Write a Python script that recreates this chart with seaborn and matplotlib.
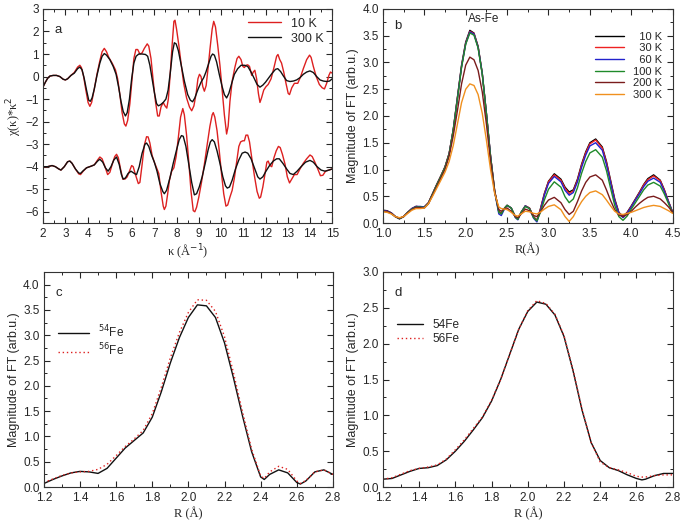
import matplotlib
matplotlib.use("Agg")
import matplotlib.pyplot as plt
from matplotlib.ticker import MultipleLocator, FormatStrFormatter
import seaborn as sns

# ---- panel a: chi(k)*k^2 ----
k_red_top = [2.0, 2.1, 2.2, 2.3, 2.45, 2.6, 2.75, 2.9, 3.0, 3.1, 3.25, 3.4, 3.55, 3.65, 3.72, 3.82, 3.92, 4.02, 4.1, 4.18,
             4.3, 4.42, 4.55, 4.65, 4.75, 4.85, 4.95, 5.1, 5.25, 5.35, 5.45, 5.55, 5.65, 5.72, 5.8, 5.9, 6.0, 6.08, 6.17, 6.25,
             6.35, 6.45, 6.55, 6.68, 6.75, 6.85, 6.95, 7.05, 7.15, 7.22, 7.3, 7.4, 7.48, 7.56, 7.63, 7.72, 7.8, 7.88, 7.93, 8.0,
             8.1, 8.2, 8.32, 8.45, 8.58, 8.68, 8.78, 8.88, 8.96, 9.03, 9.1, 9.18, 9.25, 9.33, 9.42, 9.5, 9.6, 9.67, 9.75, 9.85,
             9.95, 10.05, 10.15, 10.25, 10.32, 10.4, 10.5, 10.62, 10.72, 10.8, 10.9, 10.98, 11.05, 11.12, 11.2, 11.28, 11.38, 11.45, 11.52, 11.6,
             11.68, 11.75, 11.82, 11.92, 12.02, 12.12, 12.25, 12.38, 12.5, 12.56, 12.64, 12.72, 12.82, 12.92, 13.02, 13.08, 13.18, 13.3, 13.45, 13.58,
             13.7, 13.85, 13.98, 14.05, 14.15, 14.28, 14.42, 14.55, 14.65, 14.75, 14.85, 14.92, 15.0]
chi_red_top = [-0.45, -0.25, -0.08, 0.02, 0.05, 0.05, 0.0, -0.12, -0.15, -0.1, 0.05, 0.18, 0.42, 0.5, 0.4, 0.0, -0.6, -1.15, -1.32, -1.15,
               -0.55, 0.1, 0.7, 1.1, 1.25, 1.1, 0.85, 0.6, 0.3, -0.1, -0.8, -1.6, -2.1, -2.2, -1.95, -1.2, -0.1, 0.8, 1.2, 1.2,
               1.0, 1.05, 1.25, 1.45, 1.35, 0.8, -0.2, -1.1, -1.75, -1.75, -1.35, -1.15, -1.3, -1.4, -1.0, 0.2, 1.4, 2.45, 2.5, 2.1,
               1.4, 0.6, -0.3, -0.95, -1.35, -1.52, -1.3, -0.75, -0.1, 0.1, 0.0, -0.45, -0.65, -0.4, 0.4, 1.2, 2.1, 2.45, 2.2, 1.4,
               0.5, -0.6, -1.7, -2.55, -2.2, -1.1, -0.2, 0.4, 0.8, 0.9, 0.75, 0.45, 0.4, 0.5, 0.52, 0.45, 0.05, 0.2, 0.28, -0.1,
               -0.75, -1.15, -0.95, -0.6, -0.45, -0.35, -0.1, 0.4, 0.9, 0.98, 0.75, 0.6, 0.2, -0.3, -0.75, -0.8, -0.5, -0.3, -0.3, 0.0,
               0.35, 0.75, 0.95, 0.85, 0.45, 0.0, -0.35, -0.5, -0.55, -0.3, 0.05, 0.2, 0.15]

k_blk_top = [2.0, 2.1, 2.2, 2.3, 2.45, 2.6, 2.75, 2.9, 3.0, 3.1, 3.25, 3.4, 3.55, 3.65, 3.75, 3.85, 3.95, 4.05, 4.12, 4.2,
             4.3, 4.42, 4.55, 4.65, 4.75, 4.85, 5.0, 5.15, 5.28, 5.4, 5.5, 5.6, 5.7, 5.78, 5.88, 5.98, 6.08, 6.18, 6.3, 6.45,
             6.6, 6.7, 6.8, 6.9, 7.0, 7.1, 7.18, 7.28, 7.4, 7.52, 7.62, 7.72, 7.82, 7.9, 7.98, 8.08, 8.2, 8.35, 8.5, 8.62,
             8.72, 8.82, 8.95, 9.1, 9.22, 9.32, 9.45, 9.55, 9.62, 9.7, 9.8, 9.92, 10.05, 10.15, 10.25, 10.35, 10.48, 10.6, 10.75, 10.9,
             11.05, 11.2, 11.35, 11.5, 11.62, 11.75, 11.88, 12.0, 12.15, 12.3, 12.45, 12.55, 12.68, 12.82, 12.95, 13.1, 13.25, 13.4, 13.55, 13.7,
             13.85, 14.0, 14.15, 14.3, 14.45, 14.6, 14.75, 14.88, 15.0]
chi_blk_top = [-0.45, -0.25, -0.08, 0.02, 0.05, 0.05, 0.0, -0.12, -0.15, -0.1, 0.05, 0.15, 0.35, 0.42, 0.3, -0.1, -0.6, -1.05, -1.1, -0.95,
               -0.55, 0.05, 0.6, 0.9, 1.02, 0.95, 0.75, 0.45, 0.1, -0.5, -1.1, -1.55, -1.75, -1.6, -1.0, -0.1, 0.6, 0.9, 1.0, 1.0,
               0.98, 0.9, 0.5, -0.1, -0.7, -1.2, -1.3, -1.25, -1.15, -1.0, -0.6, 0.2, 1.1, 1.5, 1.45, 1.15, 0.55, -0.2, -0.8, -1.05,
               -1.12, -0.95, -0.6, -0.25, -0.05, 0.2, 0.6, 0.9, 1.0, 0.95, 0.65, 0.1, -0.45, -0.8, -0.95, -0.75, -0.3, 0.1, 0.35, 0.5,
               0.5, 0.45, 0.2, -0.1, -0.35, -0.47, -0.38, -0.25, -0.05, 0.15, 0.32, 0.35, 0.22, 0.0, -0.18, -0.22, -0.2, -0.15, -0.05, 0.1,
               0.2, 0.25, 0.18, 0.0, -0.15, -0.2, -0.22, -0.2, -0.1]

k_red_bot = [2.0, 2.2, 2.4, 2.55, 2.7, 2.8, 2.95, 3.1, 3.2, 3.3, 3.45, 3.6, 3.68, 3.8, 3.95, 4.15, 4.3, 4.45, 4.55, 4.65,
             4.78, 4.9, 5.0, 5.12, 5.22, 5.3, 5.38, 5.48, 5.58, 5.68, 5.78, 5.88, 5.98, 6.05, 6.15, 6.28, 6.35, 6.45, 6.55, 6.65,
             6.72, 6.8, 6.9, 7.0, 7.1, 7.2, 7.3, 7.4, 7.45, 7.52, 7.6, 7.68, 7.78, 7.88, 7.98, 8.08, 8.18, 8.28, 8.35, 8.45,
             8.55, 8.65, 8.75, 8.82, 8.9, 9.0, 9.12, 9.25, 9.38, 9.5, 9.6, 9.65, 9.72, 9.82, 9.92, 10.02, 10.12, 10.22, 10.3, 10.4,
             10.5, 10.6, 10.7, 10.8, 10.88, 10.98, 11.05, 11.12, 11.2, 11.28, 11.38, 11.5, 11.62, 11.72, 11.78, 11.88, 11.98, 12.06, 12.12, 12.2,
             12.28, 12.38, 12.48, 12.58, 12.66, 12.76, 12.88, 12.98, 13.08, 13.18, 13.3, 13.42, 13.55, 13.7, 13.85, 14.0, 14.1, 14.22, 14.35, 14.47,
             14.58, 14.7, 14.85, 15.0]
chi_red_bot = [-4.0, -4.0, -3.95, -4.0, -4.1, -4.15, -4.0, -3.78, -3.75, -3.85, -4.1, -4.32, -4.35, -4.2, -4.05, -3.98, -3.92, -3.7, -3.57, -3.65,
               -4.0, -4.35, -4.25, -3.85, -3.55, -3.45, -3.6, -4.1, -4.55, -4.55, -4.45, -4.2, -3.95, -4.0, -4.35, -4.75, -4.7, -3.9, -3.05, -2.67,
               -2.68, -2.95, -3.5, -3.8, -4.05, -4.3, -5.1, -5.75, -5.9, -5.75, -5.2, -4.6, -4.2, -4.05, -3.55, -2.7, -1.8, -1.42, -1.7, -2.6,
               -3.8, -5.1, -5.95, -6.0, -5.8, -5.35, -4.7, -3.9, -3.0, -2.2, -1.7, -1.6, -1.8, -2.4, -3.3, -4.3, -5.2, -5.75, -5.7, -5.35,
               -5.05, -4.5, -3.8, -3.1, -2.9, -2.85, -2.85, -2.6, -2.6, -2.9, -3.6, -4.4, -5.1, -5.4, -5.35, -4.9, -4.3, -3.8, -3.75, -3.95,
               -4.0, -3.6, -3.3, -3.1, -3.15, -3.45, -3.9, -4.45, -4.72, -4.55, -4.35, -4.35, -4.1, -3.85, -3.65, -3.48, -3.55, -3.8, -4.1, -4.4,
               -4.38, -4.2, -4.15, -4.1]

k_blk_bot = [2.0, 2.2, 2.4, 2.55, 2.7, 2.8, 2.95, 3.1, 3.2, 3.3, 3.45, 3.6, 3.68, 3.8, 3.95, 4.15, 4.3, 4.45, 4.55, 4.68,
             4.8, 4.92, 5.05, 5.18, 5.3, 5.42, 5.52, 5.6, 5.7, 5.82, 5.95, 6.1, 6.2, 6.32, 6.45, 6.58, 6.65, 6.75, 6.88, 7.0,
             7.12, 7.25, 7.38, 7.45, 7.55, 7.7, 7.85, 8.0, 8.12, 8.22, 8.3, 8.42, 8.55, 8.68, 8.8, 8.9, 9.02, 9.15, 9.3, 9.42,
             9.52, 9.6, 9.7, 9.82, 9.95, 10.08, 10.2, 10.28, 10.38, 10.5, 10.65, 10.8, 10.95, 11.08, 11.2, 11.35, 11.5, 11.65, 11.75, 11.88,
             12.02, 12.18, 12.35, 12.5, 12.62, 12.78, 12.95, 13.1, 13.25, 13.42, 13.6, 13.8, 14.0, 14.15, 14.32, 14.5, 14.68, 14.85, 15.0]
chi_blk_bot = [-4.0, -4.0, -3.95, -4.0, -4.1, -4.15, -4.0, -3.78, -3.75, -3.85, -4.1, -4.28, -4.3, -4.18, -4.05, -3.98, -3.92, -3.75, -3.67, -3.8,
               -4.05, -4.2, -4.0, -3.7, -3.57, -3.9, -4.35, -4.55, -4.5, -4.3, -4.2, -4.3, -4.35, -4.0, -3.4, -3.0, -2.95, -3.1, -3.5, -3.8,
               -4.2, -4.75, -5.1, -5.2, -5.05, -4.5, -3.85, -3.25, -2.8, -2.62, -2.65, -3.1, -3.9, -4.7, -5.25, -5.2, -4.9, -4.45, -3.8, -3.25,
               -2.9, -2.8, -2.9, -3.3, -3.85, -4.45, -4.85, -4.95, -4.9, -4.6, -4.1, -3.7, -3.4, -3.35, -3.4, -3.65, -4.05, -4.45, -4.55, -4.45,
               -4.2, -3.95, -3.75, -3.65, -3.65, -3.85, -4.1, -4.3, -4.35, -4.2, -4.0, -3.8, -3.72, -3.8, -4.0, -4.15, -4.2, -4.15, -4.1]

# ---- panel b: FT magnitude vs temperature ----
r_b = [1.0, 1.05, 1.1, 1.15, 1.2, 1.25, 1.3, 1.35, 1.4, 1.45, 1.5, 1.55, 1.6, 1.65, 1.7, 1.75, 1.8, 1.85, 1.9, 1.95,
       2.0, 2.05, 2.1, 2.15, 2.2, 2.25, 2.3, 2.35, 2.4, 2.43, 2.47, 2.5, 2.55, 2.6, 2.63, 2.67, 2.72, 2.77, 2.82, 2.86,
       2.9, 2.95, 3.0, 3.07, 3.15, 3.2, 3.25, 3.3, 3.35, 3.4, 3.45, 3.5, 3.57, 3.65, 3.7, 3.75, 3.8, 3.85, 3.9, 3.95,
       4.0, 4.05, 4.1, 4.15, 4.2, 4.27, 4.35, 4.4, 4.45, 4.5]
ft_10k = [0.24, 0.23, 0.19, 0.12, 0.08, 0.12, 0.2, 0.27, 0.31, 0.3, 0.3, 0.38, 0.55, 0.72, 0.88, 1.05, 1.3, 1.75, 2.35, 2.95,
          3.38, 3.6, 3.55, 3.3, 2.8, 2.05, 1.25, 0.6, 0.22, 0.18, 0.28, 0.33, 0.28, 0.12, 0.08, 0.2, 0.32, 0.28, 0.12, 0.05,
          0.25, 0.55, 0.78, 0.92, 0.82, 0.67, 0.58, 0.62, 0.82, 1.1, 1.33, 1.5, 1.57, 1.42, 1.15, 0.8, 0.45, 0.2, 0.12, 0.2,
          0.32, 0.45, 0.58, 0.72, 0.83, 0.9, 0.8, 0.62, 0.4, 0.2]
ft_30k = [0.23, 0.22, 0.19, 0.12, 0.08, 0.12, 0.2, 0.27, 0.31, 0.3, 0.3, 0.38, 0.55, 0.72, 0.88, 1.05, 1.3, 1.75, 2.34, 2.93,
          3.36, 3.58, 3.54, 3.29, 2.79, 2.05, 1.25, 0.6, 0.21, 0.17, 0.28, 0.33, 0.28, 0.11, 0.07, 0.2, 0.32, 0.28, 0.11, 0.04,
          0.24, 0.54, 0.77, 0.9, 0.8, 0.65, 0.55, 0.6, 0.8, 1.08, 1.31, 1.48, 1.55, 1.4, 1.13, 0.78, 0.43, 0.19, 0.11, 0.19,
          0.31, 0.44, 0.57, 0.71, 0.81, 0.88, 0.79, 0.61, 0.4, 0.2]
ft_60k = [0.23, 0.22, 0.19, 0.12, 0.08, 0.12, 0.2, 0.27, 0.31, 0.31, 0.3, 0.37, 0.54, 0.71, 0.87, 1.04, 1.29, 1.74, 2.33, 2.92,
          3.35, 3.57, 3.53, 3.28, 2.79, 2.05, 1.25, 0.58, 0.17, 0.14, 0.27, 0.33, 0.28, 0.1, 0.06, 0.2, 0.32, 0.27, 0.09, 0.02,
          0.22, 0.52, 0.74, 0.87, 0.77, 0.61, 0.52, 0.57, 0.77, 1.04, 1.27, 1.44, 1.5, 1.36, 1.09, 0.75, 0.41, 0.18, 0.1, 0.18,
          0.3, 0.43, 0.55, 0.68, 0.78, 0.84, 0.76, 0.59, 0.39, 0.2]
ft_100k = [0.22, 0.21, 0.18, 0.12, 0.08, 0.12, 0.2, 0.26, 0.3, 0.3, 0.29, 0.37, 0.54, 0.71, 0.87, 1.04, 1.29, 1.74, 2.32, 2.91,
           3.34, 3.55, 3.51, 3.27, 2.78, 2.04, 1.24, 0.59, 0.2, 0.17, 0.28, 0.33, 0.28, 0.11, 0.07, 0.2, 0.31, 0.27, 0.1, 0.04,
           0.19, 0.43, 0.63, 0.77, 0.67, 0.49, 0.38, 0.45, 0.66, 0.93, 1.15, 1.31, 1.37, 1.23, 0.98, 0.65, 0.33, 0.12, 0.05, 0.13,
           0.26, 0.38, 0.5, 0.62, 0.71, 0.76, 0.69, 0.54, 0.36, 0.19]
ft_200k = [0.22, 0.21, 0.18, 0.12, 0.09, 0.12, 0.19, 0.25, 0.29, 0.29, 0.28, 0.36, 0.52, 0.68, 0.84, 1.0, 1.25, 1.63, 2.1, 2.6,
           2.95, 3.1, 3.05, 2.85, 2.45, 1.85, 1.15, 0.58, 0.25, 0.22, 0.27, 0.28, 0.22, 0.12, 0.1, 0.17, 0.26, 0.23, 0.14, 0.12,
           0.2, 0.33, 0.43, 0.48, 0.38, 0.25, 0.16, 0.22, 0.4, 0.6, 0.76, 0.86, 0.9, 0.8, 0.62, 0.42, 0.25, 0.15, 0.12, 0.16,
           0.22, 0.3, 0.37, 0.43, 0.48, 0.5, 0.45, 0.38, 0.3, 0.2]
ft_300k = [0.21, 0.2, 0.17, 0.12, 0.1, 0.12, 0.18, 0.24, 0.27, 0.27, 0.28, 0.36, 0.5, 0.65, 0.8, 0.95, 1.15, 1.45, 1.85, 2.25,
           2.5, 2.6, 2.57, 2.4, 2.05, 1.55, 1.0, 0.55, 0.3, 0.27, 0.26, 0.25, 0.2, 0.14, 0.13, 0.17, 0.22, 0.21, 0.18, 0.17,
           0.2, 0.26, 0.31, 0.34, 0.25, 0.12, 0.03, 0.12, 0.27, 0.4, 0.5, 0.57, 0.6, 0.53, 0.43, 0.32, 0.22, 0.17, 0.16, 0.18,
           0.2, 0.23, 0.26, 0.29, 0.31, 0.33, 0.31, 0.27, 0.23, 0.18]
temps = ["  10 K", "  30 K", "  60 K", "100 K", "200 K", "300 K"]
temp_colors = ["#000000", "#ee2222", "#2222cc", "#1f8a2a", "#7a1c1c", "#f0901e"]

# ---- panel c / d: isotope comparison ----
r_c = [1.2, 1.25, 1.3, 1.35, 1.4, 1.45, 1.5, 1.55, 1.6, 1.65, 1.7, 1.75, 1.8, 1.85, 1.9, 1.95, 2.0, 2.05, 2.1, 2.15,
       2.2, 2.25, 2.3, 2.35, 2.4, 2.42, 2.45, 2.5, 2.55, 2.6, 2.62, 2.65, 2.7, 2.75, 2.8]
c_fe54 = [0.07, 0.15, 0.22, 0.28, 0.31, 0.3, 0.27, 0.37, 0.57, 0.77, 0.92, 1.07, 1.38, 1.88, 2.45, 2.95, 3.35, 3.6, 3.58, 3.35,
          2.85, 2.15, 1.4, 0.7, 0.2, 0.15, 0.25, 0.34, 0.28, 0.09, 0.06, 0.12, 0.3, 0.34, 0.25]
c_fe56 = [0.09, 0.16, 0.23, 0.28, 0.3, 0.31, 0.35, 0.45, 0.62, 0.8, 0.95, 1.12, 1.45, 1.97, 2.55, 3.05, 3.45, 3.7, 3.69, 3.47,
          2.97, 2.25, 1.48, 0.75, 0.22, 0.17, 0.3, 0.41, 0.35, 0.12, 0.07, 0.13, 0.3, 0.34, 0.25]

r_d = [1.2, 1.25, 1.3, 1.35, 1.4, 1.45, 1.5, 1.55, 1.6, 1.65, 1.7, 1.75, 1.8, 1.85, 1.9, 1.95, 2.0, 2.05, 2.1, 2.15,
       2.2, 2.25, 2.3, 2.35, 2.4, 2.45, 2.5, 2.55, 2.6, 2.63, 2.65, 2.7, 2.75, 2.8]
d_fe54 = [0.11, 0.12, 0.17, 0.22, 0.26, 0.27, 0.3, 0.38, 0.5, 0.64, 0.8, 0.97, 1.2, 1.5, 1.85, 2.2, 2.45, 2.58, 2.55, 2.4,
          2.1, 1.62, 1.07, 0.62, 0.37, 0.27, 0.23, 0.17, 0.12, 0.1, 0.11, 0.16, 0.19, 0.19]
d_fe56 = [0.11, 0.13, 0.18, 0.23, 0.26, 0.28, 0.31, 0.39, 0.52, 0.66, 0.82, 0.98, 1.21, 1.5, 1.85, 2.2, 2.46, 2.6, 2.56, 2.41,
          2.11, 1.63, 1.08, 0.62, 0.35, 0.27, 0.24, 0.2, 0.15, 0.14, 0.14, 0.16, 0.17, 0.17]

sns.set_style("ticks")
plt.rcParams["font.family"] = ["Liberation Sans", "DejaVu Sans"]
plt.rcParams["font.size"] = 8.5
plt.rcParams["xtick.direction"] = "in"
plt.rcParams["ytick.direction"] = "in"
plt.rcParams["xtick.top"] = True
plt.rcParams["ytick.right"] = True
plt.rcParams["axes.linewidth"] = 0.8

SERIF = ["Liberation Serif", "DejaVu Serif"]

fig = plt.figure(figsize=(6.85, 5.26), dpi=100)
ax_a = fig.add_axes([0.063, 0.576, 0.422, 0.407])
ax_b = fig.add_axes([0.559, 0.576, 0.423, 0.407])
ax_c = fig.add_axes([0.064, 0.074, 0.422, 0.409])
ax_d = fig.add_axes([0.559, 0.074, 0.423, 0.409])


def style_axis(ax, xmaj, xmin, ymaj, ymin, fmt=None):
    ax.xaxis.set_major_locator(MultipleLocator(xmaj))
    ax.xaxis.set_minor_locator(MultipleLocator(xmin))
    ax.yaxis.set_major_locator(MultipleLocator(ymaj))
    ax.yaxis.set_minor_locator(MultipleLocator(ymin))
    if fmt:
        ax.xaxis.set_major_formatter(FormatStrFormatter(fmt))
        ax.yaxis.set_major_formatter(FormatStrFormatter(fmt))
    ax.tick_params(which="both", direction="in", top=True, right=True)
    ax.tick_params(which="major", length=4, width=0.8, labelsize=8.5)
    ax.tick_params(which="minor", length=2, width=0.7)
    ax.tick_params(axis="x", which="major", pad=3.5)
    ax.tick_params(axis="y", which="major", pad=3)
    for s in ax.spines.values():
        s.set_color("#333333")


# panel a
sns.lineplot(x=k_red_top, y=chi_red_top, ax=ax_a, color="#dd2020", lw=1.0, sort=False, estimator=None, label="10 K")
sns.lineplot(x=k_blk_top, y=chi_blk_top, ax=ax_a, color="#111111", lw=1.0, sort=False, estimator=None, label="300 K")
sns.lineplot(x=k_red_bot, y=chi_red_bot, ax=ax_a, color="#dd2020", lw=1.0, sort=False, estimator=None)
sns.lineplot(x=k_blk_bot, y=chi_blk_bot, ax=ax_a, color="#111111", lw=1.0, sort=False, estimator=None)
ax_a.set_xlim(2, 15)
ax_a.set_ylim(-6.5, 3)
style_axis(ax_a, 1, 0.5, 1, 0.5)
ax_a.set_xlabel("κ (Å$^{-1}$)", family=SERIF, fontsize=9, labelpad=2)
ax_a.set_ylabel("χ(κ)*κ$^{2}$", family=SERIF, fontsize=9, labelpad=1)
ax_a.text(0.04, 0.93, "a", transform=ax_a.transAxes, fontsize=9.5, va="top")
ax_a.legend(loc="upper right", frameon=False, fontsize=9, handlelength=2.6, borderaxespad=0.3,
            labelspacing=0.25)

# panel b
for vals, lab, col in zip([ft_10k, ft_30k, ft_60k, ft_100k, ft_200k, ft_300k], temps, temp_colors):
    sns.lineplot(x=r_b, y=vals, ax=ax_b, color=col, lw=1.0, sort=False, estimator=None, label=lab)
ax_b.set_xlim(1.0, 4.5)
ax_b.set_ylim(0, 4.0)
style_axis(ax_b, 0.5, 0.25, 0.5, 0.25, "%.1f")
ax_b.set_xlabel("R(Å)", family=SERIF, fontsize=9, labelpad=2)
ax_b.set_ylabel("Magnitude of FT (arb.u.)", fontsize=9, labelpad=2)
ax_b.text(0.04, 0.95, "b", transform=ax_b.transAxes, fontsize=9.5, va="top")
ax_b.text(2.03, 3.81, "As-Fe", ha="left", va="center", fontsize=8.5)
ax_b.legend(loc="upper right", frameon=False, fontsize=8, handlelength=2.6, borderaxespad=0.3,
            bbox_to_anchor=(0.99, 0.93), labelspacing=0.15)

# panel c
sns.lineplot(x=r_c, y=c_fe54, ax=ax_c, color="#111111", lw=1.0, sort=False, estimator=None, label="$^{54}$Fe")
sns.lineplot(x=r_c, y=c_fe56, ax=ax_c, color="#dd2020", lw=1.0, sort=False, estimator=None, label="$^{56}$Fe",
             linestyle=(0, (1, 2)))
ax_c.set_xlim(1.2, 2.8)
ax_c.set_ylim(0, 4.25)
style_axis(ax_c, 0.2, 0.1, 0.5, 0.25, "%.1f")
ax_c.set_xlabel("R (Å)", family=SERIF, fontsize=9, labelpad=2)
ax_c.set_ylabel("Magnitude of FT (arb.u.)", fontsize=9, labelpad=2)
ax_c.text(0.04, 0.93, "c", transform=ax_c.transAxes, fontsize=9.5, va="top")
ax_c.legend(loc="upper left", frameon=False, fontsize=8.5, handlelength=2.6, borderaxespad=0.3,
            bbox_to_anchor=(0.02, 0.8), labelspacing=0.2)

# panel d
sns.lineplot(x=r_d, y=d_fe54, ax=ax_d, color="#111111", lw=1.0, sort=False, estimator=None, label="54Fe")
sns.lineplot(x=r_d, y=d_fe56, ax=ax_d, color="#dd2020", lw=1.0, sort=False, estimator=None, label="56Fe",
             linestyle=(0, (1, 2)))
ax_d.set_xlim(1.2, 2.8)
ax_d.set_ylim(0, 3.0)
style_axis(ax_d, 0.2, 0.1, 0.5, 0.25, "%.1f")
ax_d.set_xlabel("R (Å)", family=SERIF, fontsize=9, labelpad=2)
ax_d.set_ylabel("Magnitude of FT (arb.u.)", fontsize=9, labelpad=2)
ax_d.text(0.04, 0.93, "d", transform=ax_d.transAxes, fontsize=9.5, va="top")
ax_d.legend(loc="upper left", frameon=False, fontsize=8.5, handlelength=2.2, borderaxespad=0.3,
            bbox_to_anchor=(0.02, 0.82), labelspacing=0.2)

fig.savefig("out.png", dpi=100)
